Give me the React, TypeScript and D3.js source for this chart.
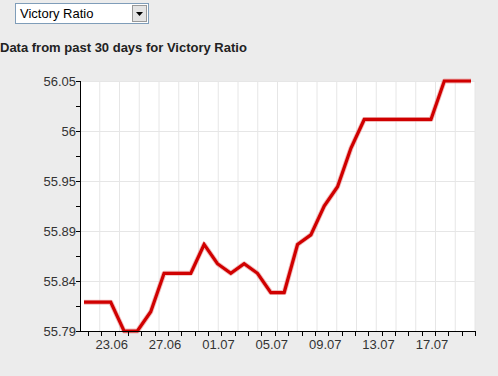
import React from "react";
import * as d3 from "d3";

const dates = [
  "21.06","22.06","23.06","24.06","25.06","26.06","27.06","28.06","29.06","30.06",
  "01.07","02.07","03.07","04.07","05.07","06.07","07.07","08.07","09.07","10.07",
  "11.07","12.07","13.07","14.07","15.07","16.07","17.07","18.07","19.07","20.07",
];
const values = [
  55.82, 55.82, 55.82, 55.79, 55.79, 55.81, 55.85, 55.85, 55.85, 55.88,
  55.86, 55.85, 55.86, 55.85, 55.83, 55.83, 55.88, 55.89, 55.92, 55.94,
  55.98, 56.01, 56.01, 56.01, 56.01, 56.01, 56.01, 56.05, 56.05, 56.05,
];
const xLabels = ["23.06", "27.06", "01.07", "05.07", "09.07", "13.07", "17.07"];
const yMin = 55.79;
const yMax = 56.05;
const title = "Data from past 30 days for Victory Ratio";
const selectLabel = "Victory Ratio";

export default function App() {
  const W = 498, H = 376;
  const left = 80, right = 475, top = 81, bottom = 331;
  const x = d3.scaleLinear().domain([-0.3, dates.length - 1 + 0.3]).range([left, right]);
  const y = d3.scaleLinear().domain([yMin, yMax]).range([bottom, top]);
  const majorY = d3.range(0, 6).map((k) => yMin + (k * (yMax - yMin)) / 5);
  const minorY = d3.range(0, 5).map((k) => yMin + ((k + 0.5) * (yMax - yMin)) / 5);
  const gridX = d3.scaleLinear().domain([0, 20]).range([left, right]);
  const line = d3
    .line<number>()
    .x((_, i) => x(i))
    .y((d) => y(d));
  const path = line(values) || "";
  const fmt = (v: number) => String(Math.round(v * 100) / 100);
  const font = "Arial, 'Liberation Sans', sans-serif";
  return (
    <svg
      width={W}
      height={H}
      style={{ position: "absolute", left: 0, top: 0, background: "#ececec" }}
    >
      <rect x={0} y={0} width={W} height={H} fill="#ececec" />
      {/* dropdown */}
      <rect x={15.5} y={3.5} width={133} height={20} fill="#fff" stroke="#7f9db9" />
      <text x={20} y={18} fontFamily={font} fontSize={13} fill="#000">
        {selectLabel}
      </text>
      <rect x={132.5} y={5.5} width={14} height={16} fill="#e4e4e4" stroke="#999" />
      <path d="M136,12 L143,12 L139.5,16 Z" fill="#000" />
      {/* title */}
      <text x={0} y={52} fontFamily={font} fontSize={13} fontWeight="bold" fill="#222">
        {title}
      </text>
      {/* plot background */}
      <rect x={left} y={top} width={right - left} height={bottom - top} fill="#fff" />
      {/* vertical grid */}
      {d3.range(1, 21).map((k) => (
        <line key={"gx" + k} x1={gridX(k)} x2={gridX(k)} y1={top} y2={bottom} stroke="#e6e6e6" strokeWidth={1} />
      ))}
      {/* horizontal grid */}
      {majorY.slice(1).map((v, k) => (
        <line key={"gy" + k} x1={left} x2={right} y1={Math.round(y(v)) + 0.5} y2={Math.round(y(v)) + 0.5} stroke="#e6e6e6" />
      ))}
      {/* line */}
      <path d={path} fill="none" stroke="#e89090" strokeWidth={5} strokeLinejoin="round" opacity={0.6} />
      <path d={path} fill="none" stroke="#d00000" strokeWidth={3.2} strokeLinejoin="miter" />
      {/* y axis */}
      <line x1={left + 0.5} x2={left + 0.5} y1={top} y2={bottom + 1} stroke="#000" />
      {majorY.concat(minorY).map((v, k) => (
        <line key={"yt" + k} x1={left - 4} x2={left} y1={Math.round(y(v)) + 0.5} y2={Math.round(y(v)) + 0.5} stroke="#000" />
      ))}
      {majorY.map((v, k) => (
        <text key={"yl" + k} x={left - 4} y={y(v) + 5} textAnchor="end" fontFamily={font} fontSize={13} fill="#333">
          {fmt(v)}
        </text>
      ))}
      {/* x axis */}
      <line x1={left} x2={right + 1} y1={bottom + 0.5} y2={bottom + 0.5} stroke="#000" />
      {dates.map((d, i) => (
        <line key={"xt" + i} x1={Math.round(x(i + 0.3)) + 0.5} x2={Math.round(x(i + 0.3)) + 0.5} y1={bottom} y2={bottom + 5} stroke="#000" />
      ))}
      {xLabels.map((lab) => {
        const i = dates.indexOf(lab);
        return (
          <text key={"xl" + lab} x={x(i) + 1} y={bottom + 18} textAnchor="middle" fontFamily={font} fontSize={13} fill="#333">
            {lab}
          </text>
        );
      })}
    </svg>
  );
}
